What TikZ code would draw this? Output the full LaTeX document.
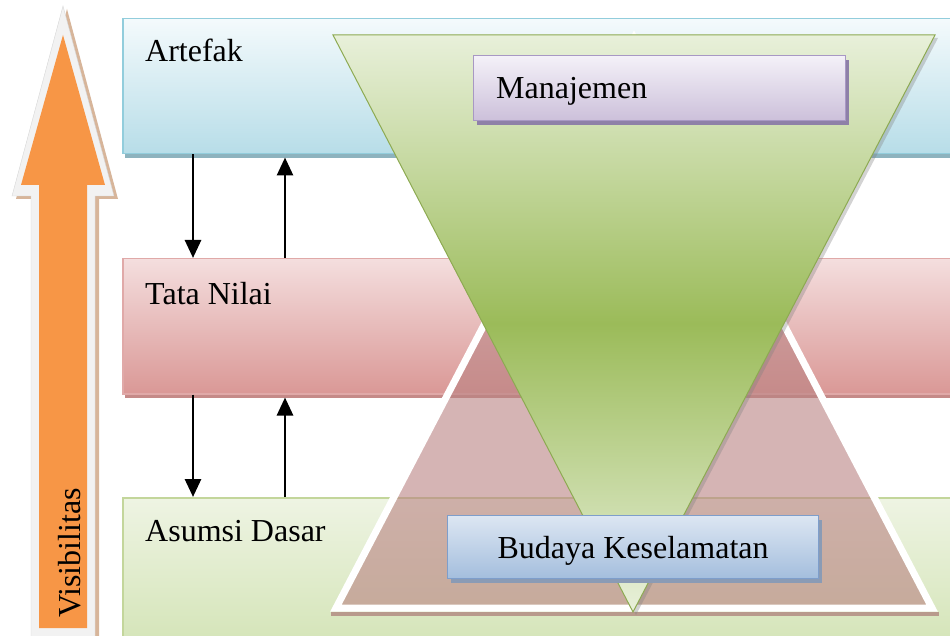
\documentclass[tikz,border=0pt]{standalone}
\usepackage{fontspec}
\setmainfont{Liberation Serif}
\usetikzlibrary{arrows.meta,shadows}

\definecolor{oranye}{HTML}{F79646}
\definecolor{tepiPanah}{HTML}{F2F2F2}
\definecolor{garisPanah}{HTML}{D6D6D6}
\definecolor{bayangPanah}{HTML}{D7B59A}
\definecolor{biruA}{HTML}{F4FAFC}
\definecolor{biruB}{HTML}{B7DDE8}
\definecolor{biruG}{HTML}{92CDDC}
\definecolor{biruS}{HTML}{8DB3BE}
\definecolor{merahA}{HTML}{F4DEDE}
\definecolor{merahB}{HTML}{DA9896}
\definecolor{merahG}{HTML}{E0A9A8}
\definecolor{merahS}{HTML}{C58A88}
\definecolor{hijauA}{HTML}{EEF4E3}
\definecolor{hijauB}{HTML}{D2E3B4}
\definecolor{hijauG}{HTML}{C3D69B}
\definecolor{segitigaA}{HTML}{E8F0DA}
\definecolor{segitigaB}{HTML}{9BBB59}
\definecolor{segitigaG}{HTML}{8DAA52}
\definecolor{piramida}{HTML}{B98282}
\definecolor{coklat}{HTML}{B89A8C}
\definecolor{unguA}{HTML}{F4F1F8}
\definecolor{unguB}{HTML}{CCC0DA}
\definecolor{unguG}{HTML}{A898C4}
\definecolor{unguS}{HTML}{8E80A8}
\definecolor{budayaA}{HTML}{DCE6F2}
\definecolor{budayaB}{HTML}{A4BEDD}
\definecolor{budayaG}{HTML}{7E9ECB}
\definecolor{budayaS}{HTML}{8A9BB5}

\begin{document}
\begin{tikzpicture}[x=1pt,y=-1pt,
  lbl/.style={inner sep=0pt, font=\fontsize{32}{38}\selectfont},
  panah/.style={line width=2.8pt, -{Triangle[length=18pt,width=16pt]}},
  kotak/.style={line width=1.2pt, anchor=north west, inner sep=0pt}]
\useasboundingbox (0,0) rectangle (950,636);
\clip (0,0) rectangle (950,636);

\newcommand\lapisan[7]{
\node[draw=#5, line width=1.5pt, top color=#3, bottom color=#4,
  minimum width=840pt, minimum height=#7pt, anchor=north west, inner sep=0pt,
  drop shadow={shadow xshift=2pt, shadow yshift=-4pt, fill=#6, opacity=1}] (#1) at (122,#2) {};
}

\path[fill=bayangPanah] (67,9) -- (118,199) -- (99,199) -- (99,640) -- (35,640) -- (35,199) -- (16,199) -- cycle;
\path[draw=garisPanah, fill=tepiPanah] (63,6) -- (114,196) -- (95,196) -- (95,640) -- (31,640) -- (31,196) -- (12,196) -- cycle;
\path[fill=oranye] (63,35) -- (105,185) -- (87,185) -- (87,628) -- (39,628) -- (39,185) -- (21,185) -- cycle;
\node[lbl, rotate=90, anchor=base] (tVisibilitas) at (80,553) {Visibilitas};

\lapisan{artefak}{18}{biruA}{biruB}{biruG}{biruS}{135}
\lapisan{nilai}{258}{merahA}{merahB}{merahG}{merahS}{135}
\lapisan{asumsi}{497}{hijauA}{hijauB}{hijauG}{hijauG}{160}

\node[lbl, anchor=base west] (tArtefak) at ([shift={(23,44)}]artefak.north west) {Artefak};
\node[lbl, anchor=base west] (tNilai) at ([shift={(23,47)}]nilai.north west) {Tata Nilai};
\node[lbl, anchor=base west] (tAsumsi) at ([shift={(23,44)}]asumsi.north west) {Asumsi Dasar};

\coordinate (turun) at (193,0);
\coordinate (naik) at (285,0);
\path[draw,panah] (turun |- artefak.south) -- (turun |- nilai.north);
\path[draw,panah] (naik |- nilai.north) -- ([yshift=-3pt]naik |- artefak.south);
\path[draw,panah] (turun |- nilai.south) -- (turun |- asumsi.north);
\path[draw,panah] (naik |- asumsi.north) -- ([yshift=-3pt]naik |- nilai.south);

\path[draw=coklat, line width=4pt] (331,614) -- (939,614);
\path[draw=white, line width=7pt, line join=miter, fill=piramida, fill opacity=0.6]
  (634,38) -- (932,608) -- (336,608) -- cycle;

\path[draw=segitigaG, line width=1pt, top color=segitigaA, bottom color=segitigaA, middle color=segitigaB,
  drop shadow={shadow xshift=3pt, shadow yshift=-3pt, fill=gray, opacity=0.35}]
  (333,35) -- (935,35) -- (633,612) -- cycle;

\node[kotak, draw=unguG, top color=unguA, bottom color=unguB, minimum width=372pt, minimum height=65pt,
  drop shadow={shadow xshift=3pt, shadow yshift=-4pt, fill=unguS, opacity=1}] (manajemen) at (473,55) {};
\node[lbl, anchor=base west] (tManajemen) at ([shift={(23,44)}]manajemen.north west) {Manajemen};

\node[kotak, draw=budayaG, top color=budayaA, bottom color=budayaB, minimum width=371pt, minimum height=63pt,
  drop shadow={shadow xshift=3pt, shadow yshift=-4pt, fill=budayaS, opacity=1}] (budaya) at (447,515) {};
\node[lbl, anchor=base] (tBudaya) at ([shift={(0,11)}]budaya.center) {Budaya Keselamatan};
\end{tikzpicture}
\end{document}
